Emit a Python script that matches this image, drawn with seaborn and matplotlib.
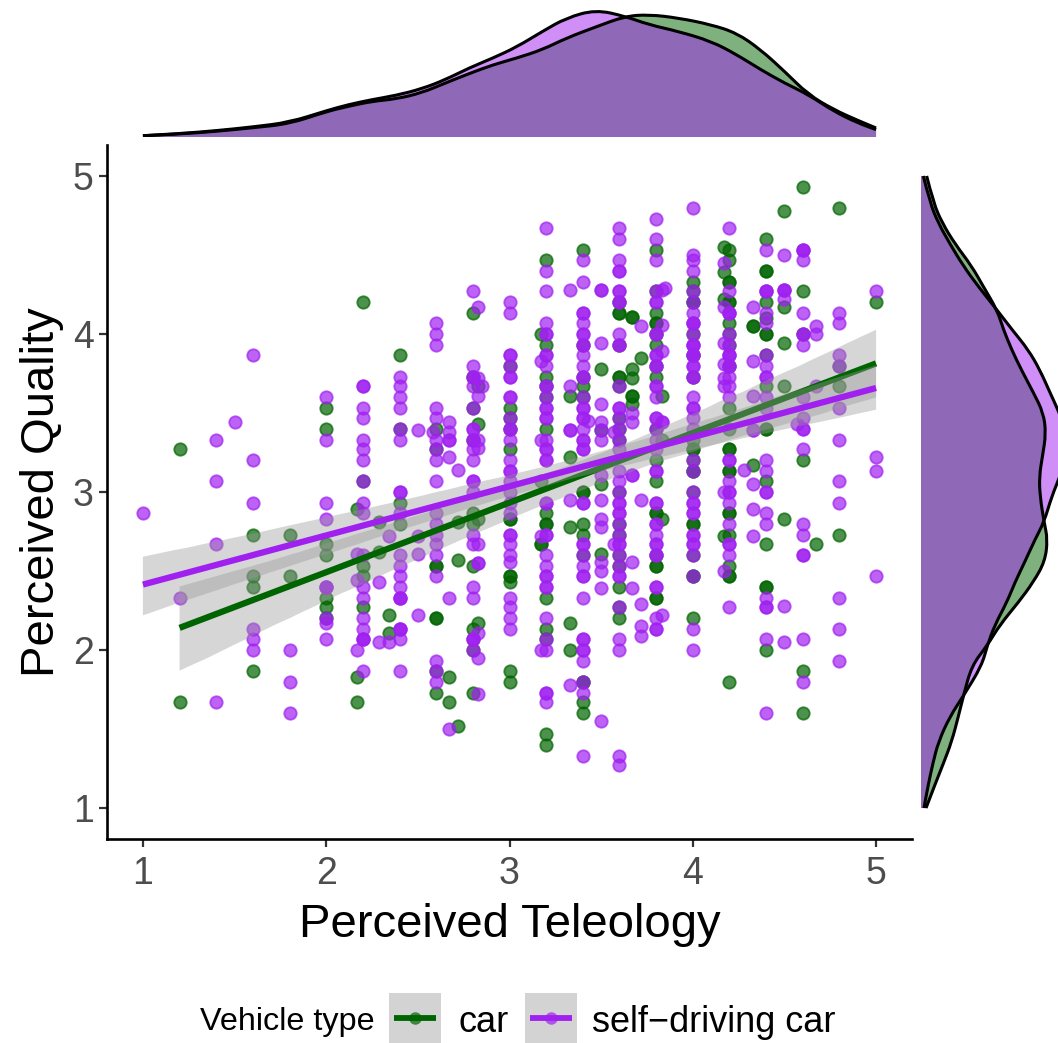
import matplotlib
matplotlib.use('Agg')
import matplotlib.pyplot as plt
from matplotlib.patches import PathPatch, Rectangle
from matplotlib.path import Path
import pandas as pd
import seaborn as sns

CAR = '#006400'
SDC = '#A020F0'

# points, one inner list per x column
car_columns = [1.2, 1.6, 1.8, 2.0, 2.17, 2.2, 2.29, 2.34, 2.4, 2.6, 2.67, 2.72, 2.8, 2.83, 3.0, 3.17, 3.2,
               3.33, 3.4, 3.5, 3.6, 3.67, 3.72, 3.8, 3.83, 4.0, 4.17, 4.2, 4.33, 4.4, 4.5, 4.6, 4.67, 4.8, 5.0]
car_values = [
    [3.27, 1.67],
    [2.73, 2.47, 2.40, 1.87],
    [2.73, 2.47],
    [3.53, 3.40, 2.67, 2.60, 2.33, 2.27, 2.20],
    [2.89, 1.83, 1.67],
    [4.20, 3.07, 2.53, 2.47, 2.27],
    [2.81, 2.62],
    [2.22, 2.11],
    [3.87, 3.40, 2.93, 2.80],
    [3.40, 3.27, 2.53, 2.53, 2.20, 2.20, 1.87, 1.73],
    [1.83, 1.67],
    [2.81, 2.57, 1.52],
    [4.13, 3.73, 3.53, 3.33, 2.87, 2.80, 2.53, 2.13, 2.00, 1.73],
    [3.67, 3.43, 2.83, 2.17],
    [3.80, 3.53, 3.47, 3.40, 3.27, 2.83, 2.83, 2.47, 2.47, 2.43, 1.87, 1.80],
    [4.00, 3.07, 2.67, 2.67],
    [4.47, 3.93, 3.73, 3.67, 3.60, 3.40, 2.87, 2.80, 2.80, 2.33, 2.13, 2.07, 1.47, 1.40],
    [3.61, 3.22, 2.78, 2.17, 2.00],
    [4.53, 3.93, 3.73, 3.67, 3.60, 3.00, 3.00, 2.80, 2.73, 2.60, 1.80, 1.80, 1.67, 1.60],
    [3.78, 3.39, 3.05, 2.61],
    [4.20, 4.13, 4.13, 3.93, 3.73, 3.73, 3.67, 3.47, 3.40, 3.33, 3.00, 2.80, 2.73, 2.60, 2.53, 2.40, 2.27, 2.20],
    [4.11, 4.11, 3.78, 3.72, 3.61, 3.61, 3.56],
    [3.85],
    [4.53, 4.27, 4.13, 4.07, 4.07, 4.00, 3.93, 3.80, 3.73, 3.40, 3.20, 3.07, 2.87, 2.87, 2.60, 2.53, 2.53, 2.33, 2.33],
    [3.61, 3.33, 2.83],
    [4.33, 4.27, 4.20, 4.20, 4.00, 3.87, 3.73, 3.33, 3.27, 3.27, 3.20, 3.13, 3.13, 3.00, 2.80, 2.80, 2.60, 2.47, 2.47, 2.20],
    [4.55, 4.39, 4.22, 2.72],
    [4.53, 4.47, 4.33, 4.33, 4.20, 4.20, 4.07, 4.00, 3.93, 3.80, 3.53, 3.40, 3.27, 3.27, 3.13, 3.13, 2.87, 2.87, 2.73, 2.53, 2.47, 2.47, 1.80],
    [4.05, 4.05, 3.17],
    [4.60, 4.40, 4.40, 4.20, 4.10, 4.00, 4.00, 3.87, 3.67, 3.40, 3.40, 3.07, 2.67, 2.40, 2.40, 2.00],
    [4.78, 4.17, 3.94, 3.67, 2.83],
    [4.93, 4.27, 4.00, 3.20, 1.87, 1.60],
    [2.67],
    [4.80, 3.80, 3.67, 2.73],
    [4.20],
]

sdc_columns = [1.0, 1.2, 1.4, 1.5, 1.6, 1.8, 2.0, 2.17, 2.2, 2.29, 2.34, 2.4, 2.5, 2.58, 2.6, 2.67, 2.72, 2.8,
               2.83, 2.85, 3.0, 3.17, 3.2, 3.33, 3.4, 3.43, 3.5, 3.57, 3.6, 3.67, 3.72, 3.8, 3.83, 3.85, 4.0,
               4.17, 4.2, 4.28, 4.33, 4.4, 4.5, 4.57, 4.6, 4.67, 4.8, 5.0]
sdc_values = [
    [2.87],
    [2.33],
    [3.33, 3.07, 2.67, 1.67],
    [3.44],
    [3.87, 3.20, 2.93, 2.13, 2.07, 2.00],
    [2.00, 1.80, 1.60],
    [3.60, 3.33, 2.93, 2.83, 2.40, 2.40, 2.40, 2.20, 2.17, 2.07],
    [2.61, 2.44, 2.00],
    [3.67, 3.67, 3.53, 3.47, 3.33, 3.27, 3.20, 3.07, 2.93, 2.87, 2.60, 2.40, 2.33, 2.20, 2.13, 2.07, 2.07, 2.07, 1.87],
    [2.43, 2.05],
    [2.72, 2.05],
    [3.73, 3.67, 3.60, 3.53, 3.40, 3.33, 3.00, 3.00, 2.87, 2.60, 2.53, 2.47, 2.40, 2.33, 2.33, 2.33, 2.13, 2.13, 2.13, 2.07, 1.87],
    [3.39, 2.72, 2.61, 2.22],
    [3.38],
    [4.07, 4.00, 3.93, 3.53, 3.47, 3.33, 3.27, 3.20, 3.07, 2.87, 2.80, 2.73, 2.67, 2.60, 2.47, 1.93, 1.87, 1.80],
    [3.44, 3.38, 3.33, 3.33, 3.22, 2.33, 1.50],
    [3.14],
    [4.27, 3.80, 3.73, 3.73, 3.67, 3.53, 3.40, 3.40, 3.33, 3.33, 3.27, 3.20, 3.07, 3.07, 3.00, 2.73, 2.67, 2.40, 2.33, 2.07, 2.07, 2.07, 2.00],
    [4.17, 3.72, 3.61, 3.33, 3.28, 2.67, 2.55, 2.55, 2.11, 1.95, 1.72],
    [3.67],
    [4.20, 4.13, 3.87, 3.87, 3.80, 3.73, 3.73, 3.60, 3.60, 3.47, 3.40, 3.40, 3.33, 3.20, 3.13, 3.13, 3.07, 3.00, 2.93, 2.87,
     2.73, 2.73, 2.67, 2.60, 2.56, 2.33, 2.27, 2.20, 2.13],
    [3.83, 3.33, 2.72, 2.00],
    [4.67, 4.40, 4.27, 4.07, 4.00, 4.00, 3.87, 3.87, 3.80, 3.67, 3.67, 3.60, 3.53, 3.53, 3.47, 3.47, 3.33, 3.27, 3.27, 3.20, 3.20,
     2.93, 2.93, 2.73, 2.73, 2.60, 2.53, 2.47, 2.47, 2.40, 2.40, 2.20, 2.07, 2.00, 1.73, 1.73, 1.67],
    [4.28, 3.67, 3.39, 3.39, 2.95, 1.78],
    [4.47, 4.33, 4.13, 4.13, 4.07, 4.00, 4.00, 3.93, 3.93, 3.87, 3.80, 3.73, 3.73, 3.60, 3.53, 3.53, 3.47, 3.47, 3.40, 3.33, 3.33,
     3.27, 3.27, 2.93, 2.93, 2.67, 2.67, 2.60, 2.53, 2.47, 2.47, 2.33, 2.07, 2.07, 2.00, 2.00, 1.93, 1.80, 1.73, 1.33],
    [3.45],
    [4.28, 4.28, 3.94, 3.56, 3.44, 3.39, 3.33, 3.11, 2.95, 2.83, 2.78, 2.56, 2.50, 2.39, 1.55],
    [3.38, 2.67],
    [4.67, 4.60, 4.47, 4.40, 4.40, 4.27, 4.27, 4.20, 4.20, 4.00, 3.93, 3.93, 3.67, 3.53, 3.53, 3.47, 3.40, 3.33, 3.27, 3.13,
     3.07, 3.00, 2.93, 2.93, 2.87, 2.87, 2.80, 2.73, 2.67, 2.67, 2.60, 2.53, 2.47, 2.47, 2.27, 2.07, 2.00, 1.33, 1.27],
    [3.50, 3.44, 3.11, 3.11, 2.56, 2.39],
    [4.05, 2.95, 2.29, 2.15, 2.09],
    [4.73, 4.60, 4.47, 4.27, 4.20, 4.20, 4.00, 4.00, 3.87, 3.87, 3.80, 3.80, 3.67, 3.67, 3.60, 3.47, 3.47, 3.40, 3.33, 3.27,
     3.13, 3.13, 2.93, 2.93, 2.80, 2.80, 2.73, 2.67, 2.67, 2.60, 2.60, 2.40, 2.40, 2.20, 2.13, 2.13],
    [4.28, 4.06, 3.89, 3.44, 3.44, 2.22],
    [4.29],
    [4.80, 4.50, 4.47, 4.40, 4.27, 4.20, 4.13, 4.07, 4.07, 4.07, 4.00, 3.93, 3.93, 3.93, 3.87, 3.87, 3.87, 3.80, 3.80, 3.73, 3.73, 3.60, 3.53, 3.53,
     3.47, 3.40, 3.20, 3.13, 3.00, 2.93, 2.93, 2.87, 2.87, 2.73, 2.73, 2.67, 2.67, 2.60, 2.47, 2.13, 2.00],
    [4.45, 4.17, 3.94, 3.81, 3.72, 3.67, 3.00, 2.50],
    [4.67, 4.27, 4.13, 4.13, 4.13, 4.00, 3.93, 3.87, 3.87, 3.87, 3.80, 3.80, 3.73, 3.67, 3.60, 3.20, 3.20, 3.07, 3.00, 3.00, 2.93, 2.80,
     2.67, 2.67, 2.60, 2.27],
    [3.14],
    [4.17, 3.83, 3.61, 3.39, 3.39, 3.05, 2.89, 2.72],
    [4.53, 4.27, 4.27, 4.27, 4.13, 4.07, 3.87, 3.80, 3.73, 3.73, 3.60, 3.53, 3.20, 3.13, 3.00, 3.00, 2.87, 2.80, 2.33, 2.27, 2.27, 2.07, 1.60],
    [4.50, 4.28, 4.28, 4.28, 4.22, 2.28, 2.05],
    [3.43],
    [4.53, 4.53, 4.53, 4.47, 4.13, 4.00, 4.00, 3.93, 3.60, 3.47, 3.40, 3.40, 3.27, 2.80, 2.73, 2.60, 2.60, 2.07, 1.80],
    [4.05, 4.00, 3.67],
    [4.13, 4.07, 3.87, 3.80, 3.53, 3.33, 3.07, 2.93, 2.33, 2.13, 1.93],
    [4.27, 3.22, 3.13, 2.47],
]

# marginal density curves
top_x = [1.00, 1.20, 1.40, 1.60, 1.80, 2.00, 2.12, 2.25, 2.38, 2.52, 2.65, 2.78, 2.91, 3.04, 3.18, 3.31, 3.47, 3.63,
         3.76, 3.92, 4.10, 4.24, 4.37, 4.50, 4.63, 4.77, 4.90, 5.00]
top_car = [.006, .014, .027, .044, .063, .121, .146, .170, .181, .210, .257, .302, .344, .376, .416, .471, .524, .575,
           .583, .567, .535, .495, .416, .313, .202, .130, .079, .043]
top_sdc = [.006, .016, .030, .048, .070, .125, .154, .178, .198, .229, .273, .329, .376, .429, .503, .567, .606, .575,
           .535, .503, .456, .392, .321, .257, .202, .122, .067, .035]

right_y = [5.00, 4.83, 4.70, 4.57, 4.43, 4.30, 4.15, 4.03, 3.90, 3.77, 3.63, 3.50, 3.37, 3.23, 3.10, 2.97, 2.81, 2.70,
           2.56, 2.43, 2.30, 2.16, 2.03, 1.90, 1.71, 1.58, 1.42, 1.28, 1.15, 1.00]
right_car = [.027, .059, .102, .162, .241, .297, .363, .392, .432, .479, .535, .583, .595, .579, .563, .567, .586, .603,
             .590, .535, .463, .376, .316, .241, .202, .178, .146, .106, .067, .024]
right_sdc = [.011, .043, .083, .138, .202, .273, .363, .432, .511, .567, .614, .659, .694, .694, .662, .622, .586, .543,
             .495, .448, .408, .352, .316, .289, .202, .138, .083, .056, .035, .014]

ticks = [1, 2, 3, 4, 5]


def points(columns, values):
    rows = [(x, y) for x, ys in zip(columns, values, strict=True) for y in ys]
    return pd.DataFrame(rows, columns=['teleology', 'quality'])


car = points(car_columns, car_values)
sdc = points(sdc_columns, sdc_values)

W, H = 1058, 1043


def px_axes(left, top, right, bottom):
    return fig.add_axes([left / W, 1 - bottom / H, (right - left) / W, (bottom - top) / H])


def curve_path(xs, ys):
    # read values as quadratic control points, so the outline stays round
    verts = [(xs[0], ys[0])]
    codes = [Path.MOVETO]
    for i in range(1, len(xs) - 1):
        verts += [(xs[i], ys[i]), ((xs[i] + xs[i + 1]) / 2, (ys[i] + ys[i + 1]) / 2)]
        codes += [Path.CURVE3, Path.CURVE3]
    verts.append((xs[-1], ys[-1]))
    codes.append(Path.LINETO)
    return verts, codes


def density(target, xs, ys, col, closing):
    verts, codes = curve_path(xs, ys)
    fill = Path(verts + closing + [verts[0]], codes + [Path.LINETO] * len(closing) + [Path.CLOSEPOLY])
    target.add_patch(PathPatch(fill, facecolor=col, alpha=0.5, edgecolor='none', zorder=1))
    target.add_patch(PathPatch(Path(verts, codes), facecolor='none', edgecolor='black', linewidth=2.2, zorder=2))


sns.set_style('white')
plt.rcParams['font.family'] = ['Liberation Sans', 'DejaVu Sans']
plt.rcParams['text.color'] = 'black'
plt.rcParams['axes.labelcolor'] = 'black'

fig = plt.figure(figsize=(W / 100, H / 100), dpi=100)
ax = px_axes(107, 145, 912, 839)
ax_top = px_axes(107, 0, 912, 137)
ax_right = px_axes(921, 145, 1058, 839)
ax_key = fig.add_axes([0, 0, 1, 1])

# scatter
for df, col in [(car, CAR), (sdc, SDC)]:
    sns.scatterplot(data=df, x='teleology', y='quality', color=col, alpha=0.7, s=80, linewidth=1.3,
                    edgecolor=col, ax=ax, zorder=2, legend=False)

# regression lines, grey bands
z = 3
for df, col in [(car, CAR), (sdc, SDC)]:
    n = len(ax.collections)
    sns.regplot(data=df, x='teleology', y='quality', scatter=False, ci=95, seed=3, color=col, ax=ax,
                line_kws={'linewidth': 4.5, 'solid_capstyle': 'butt', 'zorder': z + 0.1})
    band = ax.collections[n]
    band.set(facecolor='#999999', alpha=0.4, edgecolor='none', zorder=z)
    z += 0.2

ax.set_xlim(0.804, 5.196)
ax.set_ylim(0.804, 5.196)
ax.set_xticks(ticks)
ax.set_yticks(ticks)
ax.set_xlabel('Perceived Teleology', fontsize=34, labelpad=8)
ax.set_ylabel('Perceived Quality', fontsize=34, labelpad=6.5)
ax.tick_params(labelsize=27, labelcolor='#4d4d4d', color='#333333', length=5.5, width=1.6,
               bottom=True, left=True)
ax.tick_params(axis='x', pad=7)
ax.tick_params(axis='y', pad=4)
sns.despine(ax=ax)
ax.spines['left'].set(color='black', linewidth=1.9)
ax.spines['bottom'].set(color='black', linewidth=1.9)

# top marginal
density(ax_top, top_x, top_car, CAR, [(top_x[-1], 0), (top_x[0], 0)])
density(ax_top, top_x, top_sdc, SDC, [(top_x[-1], 0), (top_x[0], 0)])
ax_top.set_xlim(0.804, 5.196)
ax_top.set_ylim(0, 137 / 210)
ax_top.axis('off')

# right marginal
density(ax_right, right_car, right_y, CAR, [(0, right_y[-1]), (0, right_y[0])])
density(ax_right, right_sdc, right_y, SDC, [(0, right_y[-1]), (0, right_y[0])])
ax_right.set_ylim(0.804, 5.196)
ax_right.set_xlim(0, 137 / 210)
ax_right.axis('off')

# legend, laid out in picture pixels
ax_key.set_xlim(0, W)
ax_key.set_ylim(H, 0)
ax_key.axis('off')
ax_key.patch.set_alpha(0)
ax_key.text(200, 1022, 'Vehicle type', fontsize=23.3, va='center', ha='left')
for x0, col, label, tx in [(389, CAR, 'car', 458), (525, SDC, 'self\u2212driving car', 592)]:
    ax_key.add_patch(Rectangle((x0, 993), 52, 50, facecolor='#d3d3d3', edgecolor='none'))
    ax_key.plot([x0 + 5, x0 + 47], [1018, 1018], color=col, linewidth=4.2, solid_capstyle='butt')
    ax_key.plot([x0 + 26], [1018], 'o', color=col, alpha=0.7, markersize=9, markeredgewidth=0)
    ax_key.text(tx, 1022, label, fontsize=26, va='center', ha='left')

fig.savefig('out.png', dpi=100)
